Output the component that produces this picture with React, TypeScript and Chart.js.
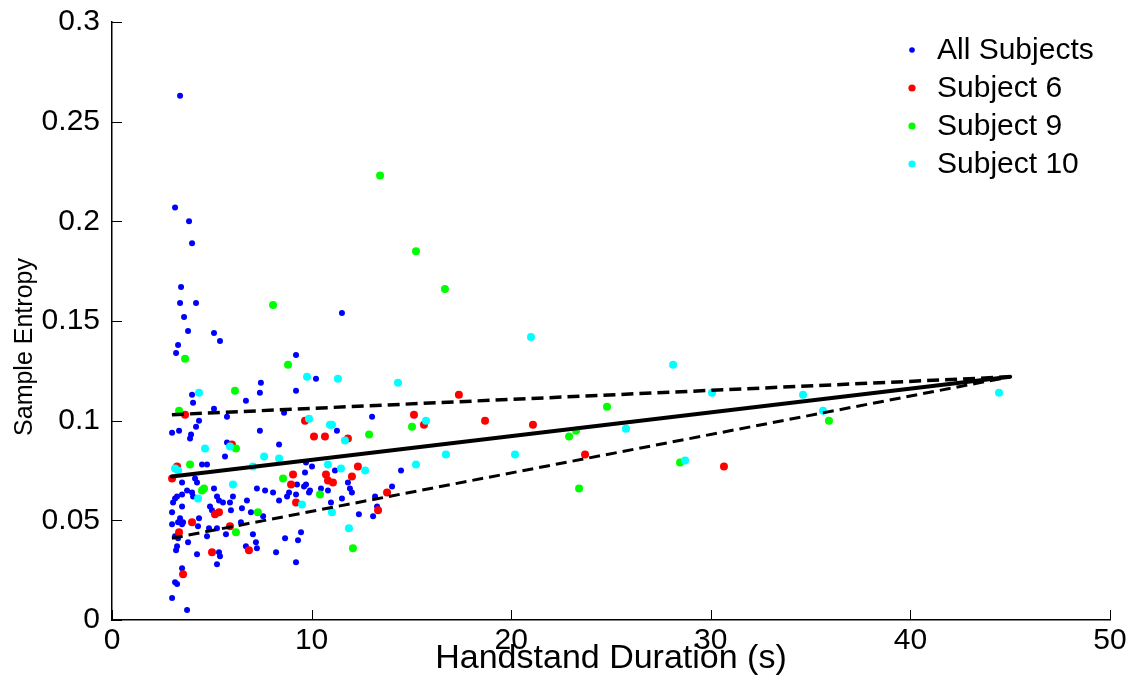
import React, { useEffect, useRef } from "react";
import { Chart, registerables } from "chart.js";

Chart.register(...registerables);

// ---- Data (x = handstand duration in s, y = sample entropy) ----
const allSubjects: [number, number][] = [
  [3.41, 0.263], [3.16, 0.207], [3.86, 0.2], [4.01, 0.189], [3.46, 0.167], [3.41, 0.159],
  [4.21, 0.159], [3.61, 0.152], [3.81, 0.145], [5.11, 0.144], [5.41, 0.14], [3.31, 0.138],
  [3.21, 0.134], [11.52, 0.154], [9.22, 0.133], [10.22, 0.121], [7.46, 0.119], [7.41, 0.114],
  [9.22, 0.115], [4.01, 0.113], [4.06, 0.109], [6.71, 0.11], [5.11, 0.106], [5.76, 0.102],
  [8.62, 0.104], [4.36, 0.1], [4.21, 0.097], [3.01, 0.094], [3.36, 0.095], [3.96, 0.093],
  [3.91, 0.091], [7.41, 0.095], [8.37, 0.088], [5.76, 0.089], [5.66, 0.082], [4.51, 0.078],
  [4.76, 0.078], [3.51, 0.069], [4.16, 0.071], [4.26, 0.069], [9.67, 0.074], [9.72, 0.068],
  [9.27, 0.068], [7.26, 0.066], [7.67, 0.065], [8.07, 0.064], [3.76, 0.065], [4.01, 0.064],
  [5.11, 0.066], [9.92, 0.065], [9.22, 0.063], [3.16, 0.061], [3.06, 0.059], [3.26, 0.062],
  [3.51, 0.063], [4.06, 0.062], [3.51, 0.057], [5.26, 0.062], [5.36, 0.06], [5.56, 0.059],
  [5.91, 0.059], [6.06, 0.062], [4.91, 0.057], [5.01, 0.055], [5.96, 0.055], [6.51, 0.056],
  [6.76, 0.06], [6.96, 0.054], [7.57, 0.052], [8.37, 0.06], [8.77, 0.062], [8.87, 0.064],
  [3.01, 0.054], [3.41, 0.051], [3.31, 0.049], [3.56, 0.049], [3.51, 0.048], [3.01, 0.048],
  [4.36, 0.051], [4.31, 0.047], [4.86, 0.046], [5.26, 0.046], [5.71, 0.043], [3.16, 0.042],
  [3.31, 0.041], [3.81, 0.039], [4.76, 0.042], [7.06, 0.043], [8.67, 0.041], [9.32, 0.04],
  [9.47, 0.044], [7.21, 0.039], [7.26, 0.036], [6.71, 0.037], [8.22, 0.034], [3.26, 0.037],
  [3.21, 0.035], [4.26, 0.033], [5.36, 0.034], [5.41, 0.032], [5.26, 0.028], [9.22, 0.029],
  [3.51, 0.026], [3.16, 0.019], [3.26, 0.018], [3.01, 0.011], [3.76, 0.005], [9.72, 0.079],
  [10.02, 0.077], [11.27, 0.095], [13.03, 0.102], [11.17, 0.075], [14.48, 0.075], [11.82, 0.069],
  [11.92, 0.066], [12.02, 0.064], [9.62, 0.067], [9.87, 0.064], [10.47, 0.066], [10.82, 0.065],
  [14.03, 0.067], [13.18, 0.062], [10.97, 0.059], [11.52, 0.061], [12.37, 0.053], [13.08, 0.052],
  [13.28, 0.057], [6.46, 0.049],
];

const subject6: [number, number][] = [
  [3.66, 0.103], [9.67, 0.1], [10.12, 0.092], [10.67, 0.092], [6.01, 0.088], [3.26, 0.077],
  [3.01, 0.071], [9.07, 0.073], [8.97, 0.068], [9.22, 0.059], [5.36, 0.054], [5.16, 0.053],
  [5.91, 0.047], [4.01, 0.049], [3.36, 0.044], [6.86, 0.035], [5.01, 0.034], [3.56, 0.023],
  [17.38, 0.113], [15.13, 0.103], [15.63, 0.098], [18.69, 0.1], [11.82, 0.091], [12.32, 0.077],
  [10.72, 0.073], [10.82, 0.07], [11.07, 0.069], [12.02, 0.072], [13.78, 0.064], [13.33, 0.055],
  [21.09, 0.098], [23.7, 0.083], [30.66, 0.077],
];

const subject9: [number, number][] = [
  [13.43, 0.223], [15.23, 0.185], [16.68, 0.166], [8.07, 0.158], [3.66, 0.131], [8.82, 0.128],
  [6.16, 0.115], [3.36, 0.105], [6.21, 0.086], [3.91, 0.078], [8.57, 0.071], [4.51, 0.065],
  [4.61, 0.066], [10.42, 0.063], [7.31, 0.054], [6.21, 0.044], [15.03, 0.097], [12.88, 0.093],
  [12.07, 0.036], [24.8, 0.107], [23.25, 0.095], [22.9, 0.092], [28.46, 0.079], [23.4, 0.066],
  [35.92, 0.1],
];

const subject10: [number, number][] = [
  [9.77, 0.122], [4.36, 0.114], [9.87, 0.101], [10.92, 0.098], [5.91, 0.087], [4.66, 0.086],
  [7.62, 0.082], [8.37, 0.081], [3.16, 0.076], [3.31, 0.075], [6.06, 0.068], [9.52, 0.058],
  [4.31, 0.061], [11.32, 0.121], [14.33, 0.119], [15.73, 0.1], [11.02, 0.098], [11.67, 0.09],
  [16.73, 0.083], [10.82, 0.078], [11.47, 0.076], [12.68, 0.075], [15.23, 0.078], [11.02, 0.054],
  [11.87, 0.046], [7.06, 0.077], [20.99, 0.142], [28.11, 0.128], [30.06, 0.114], [25.75, 0.096],
  [20.19, 0.083], [28.71, 0.08], [34.62, 0.113], [35.62, 0.105], [44.44, 0.114],
];

// Regression line and confidence bounds (endpoints)
const fitX = [3, 45];
const fitY = [0.072, 0.122];
const upperY = [0.103, 0.122];
const lowerY = [0.041, 0.122];

const xTicks = [0, 10, 20, 30, 40, 50];
const yTicks = [0, 0.05, 0.1, 0.15, 0.2, 0.25, 0.3];
const yTickLabels = ["0", "0.05", "0.1", "0.15", "0.2", "0.25", "0.3"];

const xTitle = "Handstand Duration (s)";
const yTitle = "Sample Entropy";
const legendLabels = ["All Subjects", "Subject 6", "Subject 9", "Subject 10"];
const legendColors = ["#0000ff", "#ff0000", "#00ff00", "#00ffff"];

const FONT = "'Liberation Sans', Arial, Helvetica, sans-serif";

const toPts = (arr: [number, number][]) => arr.map(([x, y]) => ({ x, y }));
const linePts = (ys: number[]) => fitX.map((x, i) => ({ x, y: ys[i] }));

const decorations = {
  id: "decorations",
  afterDraw(chart: any) {
    const { ctx, chartArea } = chart;
    const xs = chart.scales.x;
    const ys = chart.scales.y;
    ctx.save();
    ctx.strokeStyle = "#000";
    ctx.lineWidth = 1;
    xTicks.forEach((v) => {
      const px = Math.round(xs.getPixelForValue(v)) + 0.5;
      ctx.beginPath();
      ctx.moveTo(px, chartArea.bottom);
      ctx.lineTo(px, chartArea.bottom - 10);
      ctx.stroke();
    });
    yTicks.forEach((v) => {
      const py = Math.round(ys.getPixelForValue(v)) + 0.5;
      ctx.beginPath();
      ctx.moveTo(chartArea.left, py);
      ctx.lineTo(chartArea.left + 10, py);
      ctx.stroke();
    });
    // y-axis title
    ctx.save();
    ctx.translate(25, 347);
    ctx.rotate(-Math.PI / 2);
    ctx.font = `25px ${FONT}`;
    ctx.fillStyle = "#000";
    ctx.textAlign = "center";
    ctx.textBaseline = "middle";
    ctx.fillText(yTitle, 0, 0);
    ctx.restore();
    // legend
    ctx.font = `30px ${FONT}`;
    ctx.textBaseline = "middle";
    ctx.textAlign = "left";
    legendLabels.forEach((lab, i) => {
      const y = 50 + i * 38;
      ctx.fillStyle = legendColors[i];
      ctx.beginPath();
      ctx.arc(912, y, i === 0 ? 2.8 : 3.6, 0, Math.PI * 2);
      ctx.fill();
      ctx.fillStyle = "#000";
      ctx.fillText(lab, 937, y + 1);
    });
    ctx.restore();
  },
};

export default function App() {
  const ref = useRef<HTMLCanvasElement | null>(null);

  useEffect(() => {
    if (!ref.current) return;
    const chart = new Chart(ref.current, {
      type: "scatter",
      data: {
        datasets: [
          {
            label: "Fit",
            data: linePts(fitY),
            showLine: true,
            borderColor: "#000",
            borderWidth: 4,
            pointRadius: 0,
            borderCapStyle: "round",
            order: 0,
          },
          {
            label: "Upper",
            data: linePts(upperY),
            showLine: true,
            borderColor: "#000",
            borderWidth: 3.5,
            borderDash: [12, 6],
            pointRadius: 0,
            order: 0,
          },
          {
            label: "Lower",
            data: linePts(lowerY),
            showLine: true,
            borderColor: "#000",
            borderWidth: 3,
            borderDash: [11, 6],
            pointRadius: 0,
            order: 0,
          },
          {
            label: legendLabels[3],
            data: toPts(subject10),
            backgroundColor: legendColors[3],
            borderColor: legendColors[3],
            pointRadius: 4,
            borderWidth: 0,
            order: 1,
          },
          {
            label: legendLabels[2],
            data: toPts(subject9),
            backgroundColor: legendColors[2],
            borderColor: legendColors[2],
            pointRadius: 4,
            borderWidth: 0,
            order: 2,
          },
          {
            label: legendLabels[1],
            data: toPts(subject6),
            backgroundColor: legendColors[1],
            borderColor: legendColors[1],
            pointRadius: 4,
            borderWidth: 0,
            order: 3,
          },
          {
            label: legendLabels[0],
            data: toPts(allSubjects),
            backgroundColor: legendColors[0],
            borderColor: legendColors[0],
            pointRadius: 3,
            borderWidth: 0,
            order: 4,
          },
        ],
      },
      options: {
        animation: false,
        responsive: false,
        devicePixelRatio: 1,
        layout: { padding: { top: 22, right: 27, left: 0, bottom: 0 } },
        plugins: {
          legend: { display: false },
          tooltip: { enabled: false },
        },
        scales: {
          x: {
            type: "linear",
            min: 0,
            max: 50,
            afterBuildTicks: (s: any) => {
              s.ticks = xTicks.map((v) => ({ value: v }));
            },
            afterFit: (s: any) => {
              s.height = 73;
              s.paddingLeft = 0;
              s.paddingRight = 0;
            },
            ticks: {
              color: "#000",
              font: { family: FONT, size: 30 },
              padding: 3,
              maxRotation: 0,
              autoSkip: false,
            },
            grid: { drawOnChartArea: false, drawTicks: false },
            border: { display: true, color: "#000", width: 1.5 },
            title: {
              display: true,
              text: xTitle,
              color: "#000",
              font: { family: FONT, size: 34 },
              padding: { top: 0, bottom: 14 },
            },
          },
          y: {
            type: "linear",
            min: 0,
            max: 0.3,
            afterBuildTicks: (s: any) => {
              s.ticks = yTicks.map((v) => ({ value: v }));
            },
            afterFit: (s: any) => {
              s.width = 112;
              s.paddingTop = 0;
              s.paddingBottom = 0;
            },
            ticks: {
              color: "#000",
              font: { family: FONT, size: 30 },
              padding: 12,
              autoSkip: false,
              callback: (v: any) => {
                const i = yTicks.findIndex((t) => Math.abs(t - Number(v)) < 1e-9);
                return i >= 0 ? yTickLabels[i] : "";
              },
            },
            grid: { drawOnChartArea: false, drawTicks: false },
            border: { display: true, color: "#000", width: 1.5 },
          },
        },
      },
      plugins: [decorations],
    });
    return () => chart.destroy();
  }, []);

  return (
    <div style={{ position: "absolute", left: 0, top: 0, width: 1137, height: 693, background: "#fff" }}>
      <canvas ref={ref} width={1137} height={693} style={{ width: 1137, height: 693, display: "block" }} />
    </div>
  );
}
